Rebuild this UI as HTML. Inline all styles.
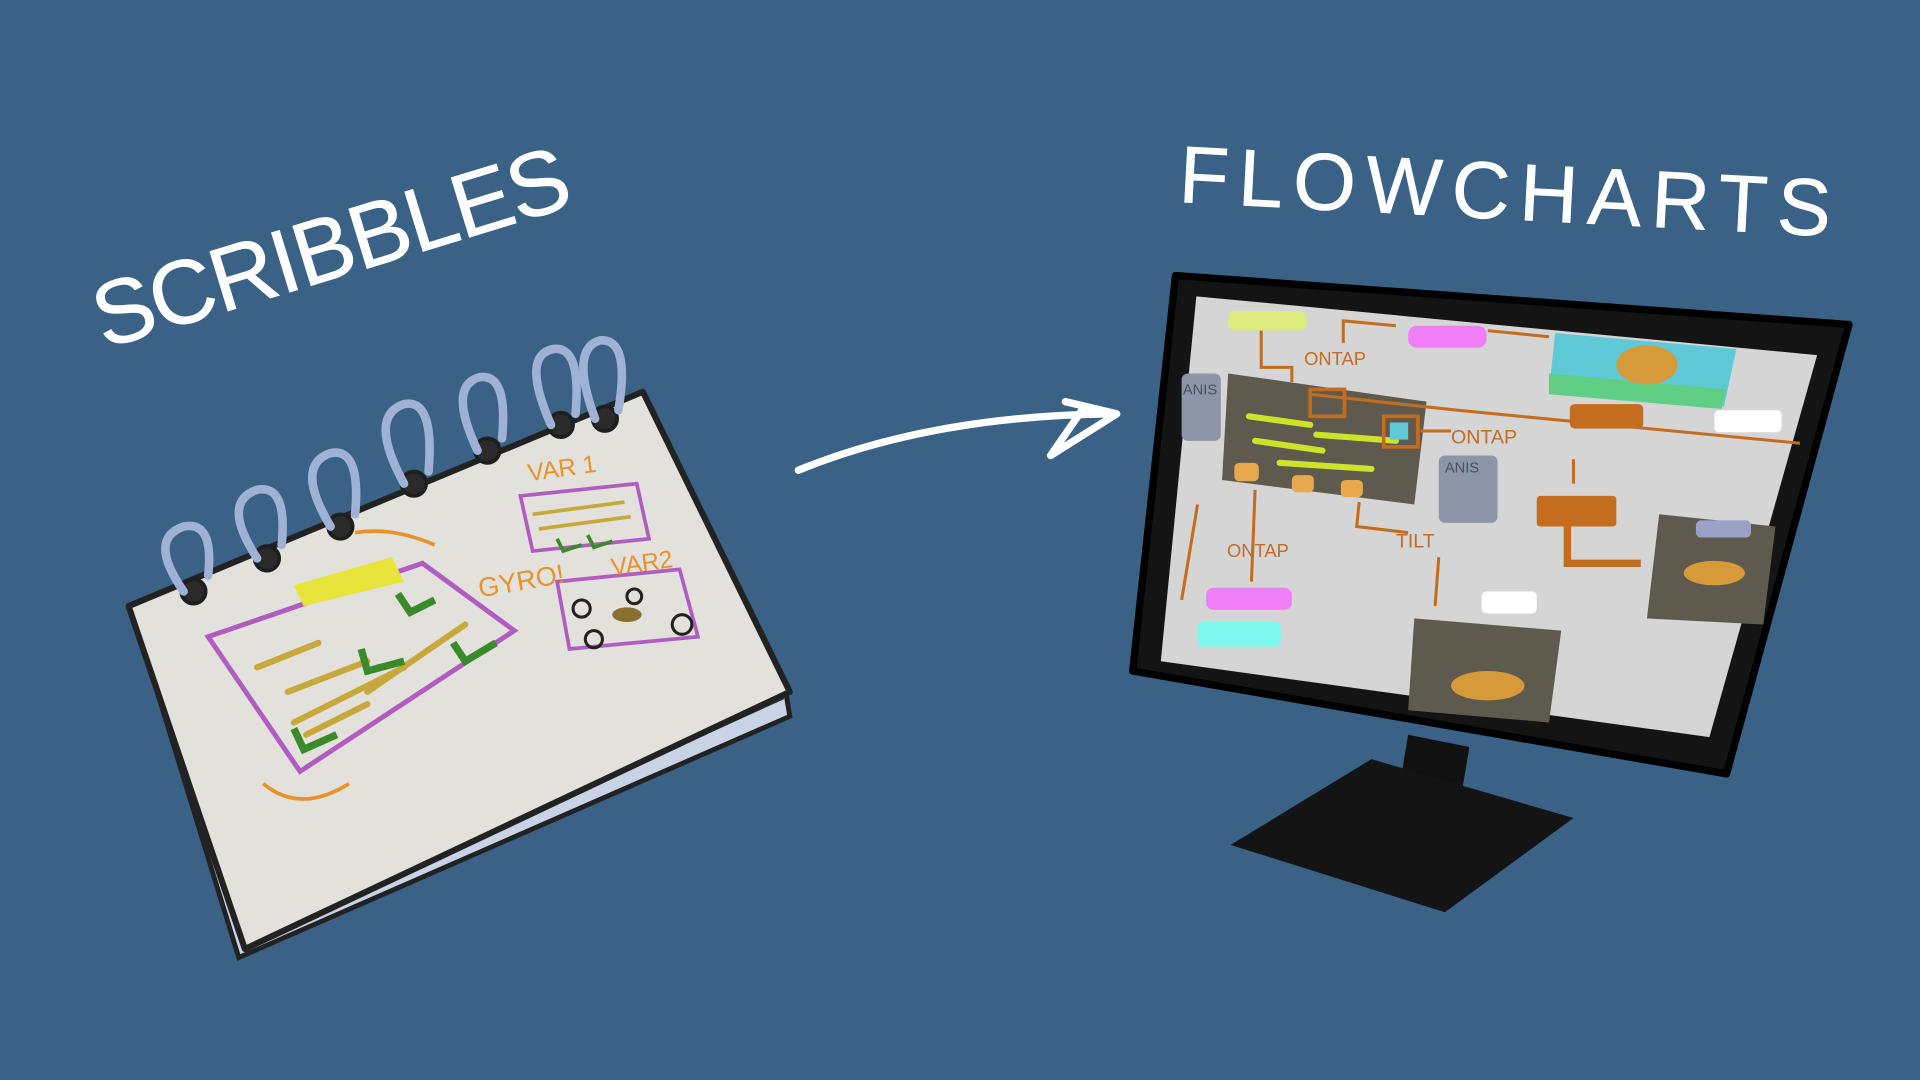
<!DOCTYPE html>
<html><head><meta charset="utf-8"><style>
html,body{margin:0;padding:0;background:#3a6286;}
svg{display:block}
text{font-family:"Liberation Sans",sans-serif;}
</style></head><body>
<svg width="1920" height="1080" viewBox="0 0 1568 882" preserveAspectRatio="none">
<rect width="1568" height="882" fill="#3a6286"/>
<!-- titles -->
<text x="0" y="0" transform="translate(85,285) rotate(-17)" font-size="74" fill="#fff" stroke="#fff" stroke-width="0.5" letter-spacing="2" textLength="405">SCRIBBLES</text>
<text x="0" y="0" transform="translate(962,165) rotate(3)" font-size="66" fill="#fff" stroke="#fff" stroke-width="0.5" letter-spacing="2" textLength="535">FLOWCHARTS</text>
<!-- arrow -->
<path d="M652 384 Q760 340 905 338" stroke="#fff" stroke-width="6" fill="none" stroke-linecap="round"/>
<path d="M870 328 L912 338 L858 372 L885 333" stroke="#fff" stroke-width="6" fill="none" stroke-linejoin="round" stroke-linecap="round"/>
<!-- notebook -->
<path d="M110 505 L195 782 L645 585 L640 555 L200 765 Z" fill="#c9d3e6" stroke="#222" stroke-width="4"/>
<path d="M200 770 L640 570" stroke="#333" stroke-width="2"/>
<path d="M105 495 L525 320 L645 565 L200 775 Z" fill="#e2e1dc" stroke="#222" stroke-width="5" stroke-linejoin="round"/>
<g stroke="#1e1e1e" stroke-width="3" fill="#2a2a2a">
<circle cx="158" cy="483" r="10"/><circle cx="218" cy="456" r="10"/><circle cx="278" cy="430" r="10"/><circle cx="338" cy="395" r="10"/><circle cx="398" cy="368" r="10"/><circle cx="458" cy="347" r="10"/><circle cx="494" cy="342" r="10"/>
</g>
<g stroke="#9fb2d6" stroke-width="7" fill="none" stroke-linecap="round">
<path d="M150 483 Q120 440 150 430 Q175 425 170 470"/><path d="M210 456 Q180 410 210 400 Q235 395 230 445"/>
<path d="M270 430 Q240 380 270 370 Q295 365 290 420"/><path d="M330 395 Q300 340 330 330 Q355 325 350 385"/>
<path d="M390 368 Q365 315 392 308 Q415 305 410 358"/><path d="M450 347 Q425 290 452 285 Q475 282 470 338"/>
<path d="M486 342 Q465 285 490 278 Q515 276 505 335"/>
</g>
<path d="M170 520 L345 460 L420 515 L245 630 Z" fill="none" stroke="#b05cc0" stroke-width="4"/>
<path d="M240 478 L320 455 L330 475 L248 495 Z" fill="#e8e43a"/>
<g stroke="#c8a83a" stroke-width="5" stroke-linecap="round"><path d="M210 545 L260 525"/><path d="M235 565 L300 540"/><path d="M240 590 L330 545"/><path d="M300 565 L380 510"/><path d="M250 600 L300 575"/></g>
<g stroke="#3a8a2a" stroke-width="6" fill="none"><path d="M325 485 L335 500 L355 490"/><path d="M295 530 L300 548 L330 540"/><path d="M370 525 L380 540 L405 525"/><path d="M240 595 L248 612 L275 600"/></g>
<path d="M425 405 L520 395 L530 440 L435 450 Z" fill="none" stroke="#b05cc0" stroke-width="3"/>
<g stroke="#c8a83a" stroke-width="3"><path d="M435 420 L510 410"/><path d="M440 432 L515 422"/></g>
<g stroke="#3a8a2a" stroke-width="3" fill="none"><path d="M455 440 L460 450 L475 445"/><path d="M480 437 L485 447 L500 442"/></g>
<path d="M455 475 L555 465 L570 520 L465 530 Z" fill="none" stroke="#b05cc0" stroke-width="3"/>
<g stroke="#222" stroke-width="2.5" fill="none"><circle cx="475" cy="497" r="7"/><circle cx="518" cy="487" r="6"/><circle cx="557" cy="510" r="8"/><circle cx="485" cy="522" r="7"/></g>
<ellipse cx="512" cy="502" rx="12" ry="6" fill="#8a7030"/>
<text x="432" y="393" font-size="20" fill="#e8922a" transform="rotate(-8 432 393)">VAR 1</text>
<text x="500" y="470" font-size="20" fill="#e8922a" transform="rotate(-8 500 470)">VAR2</text>
<text x="392" y="488" font-size="22" fill="#e8922a" transform="rotate(-10 392 488)">GYRO!</text>
<path d="M215 640 Q245 665 285 640" stroke="#e8922a" stroke-width="3" fill="none"/>
<path d="M290 435 Q320 430 355 445" stroke="#e8922a" stroke-width="3" fill="none"/>
<!-- monitor stand -->
<path d="M1150 600 L1200 610 L1190 670 L1140 660 Z" fill="#111"/>
<path d="M1005 690 L1120 620 L1285 668 L1180 745 Z" fill="#141414"/>
<!-- monitor -->
<path d="M960 225 L1510 265 L1410 632 L925 548 Z" fill="#141414" stroke="#000" stroke-width="6" stroke-linejoin="round"/>
<path d="M977 242 L1484 290 L1396 602 L948 540 Z" fill="#d5d5d5"/>
<rect x="1003" y="254" width="64" height="16" rx="6" fill="#dcec7e"/>
<rect x="1150" y="266" width="64" height="18" rx="7" fill="#f07ef6"/>
<path d="M1270 272 L1418 285 L1408 332 L1265 320 Z" fill="#5fc9d8"/>
<path d="M1265 305 L1410 318 L1406 334 L1265 322 Z" fill="#5fcf86"/>
<ellipse cx="1345" cy="298" rx="25" ry="16" fill="#d79a3a"/>
<rect x="1282" y="330" width="60" height="20" rx="4" fill="#c56d1f"/>
<rect x="1400" y="335" width="55" height="18" rx="4" fill="#fff"/>
<rect x="1255" y="405" width="65" height="25" rx="3" fill="#c56d1f"/>
<path d="M1003 305 L1165 328 L1155 412 L998 392 Z" fill="#5e5a4d"/>
<g stroke="#cfe22a" stroke-width="5" stroke-linecap="round"><path d="M1020 340 L1070 347"/><path d="M1075 355 L1140 360"/><path d="M1025 360 L1080 368"/><path d="M1045 378 L1120 383"/></g>
<g fill="#e8a84e"><rect x="1008" y="378" width="20" height="15" rx="4"/><rect x="1055" y="388" width="18" height="14" rx="4"/><rect x="1095" y="392" width="18" height="14" rx="4"/></g>
<rect x="1070" y="318" width="28" height="22" fill="none" stroke="#c56d1f" stroke-width="3"/>
<rect x="1130" y="340" width="28" height="25" fill="none" stroke="#c56d1f" stroke-width="3"/>
<rect x="1135" y="345" width="15" height="14" fill="#5fc9d8"/>
<rect x="1175" y="372" width="48" height="55" rx="5" fill="#8d96a8"/>
<rect x="965" y="305" width="32" height="55" rx="5" fill="#8d96a8"/>
<path d="M1155 505 L1275 515 L1265 590 L1150 580 Z" fill="#5e5a4d"/>
<ellipse cx="1215" cy="560" rx="30" ry="12" fill="#d79a3a"/>
<path d="M1355 420 L1450 430 L1440 510 L1345 505 Z" fill="#5e5a4d"/>
<rect x="1385" y="425" width="45" height="14" rx="4" fill="#9aa2c8"/>
<ellipse cx="1400" cy="468" rx="25" ry="10" fill="#d79a3a"/>
<rect x="1210" y="483" width="45" height="18" rx="4" fill="#fff"/>
<rect x="985" y="480" width="70" height="18" rx="6" fill="#f07ef6"/>
<rect x="978" y="508" width="68" height="20" rx="4" fill="#7ef8f0"/>
<g stroke="#c56d1f" stroke-width="2.5" fill="none">
<path d="M1030 270 L1030 300 L1055 300 L1055 312"/><path d="M1097 280 L1097 262 L1140 266"/><path d="M1215 270 L1265 275"/>
<path d="M1070 322 L1190 335 L1470 362"/><path d="M1160 352 L1185 352"/><path d="M1025 400 L1022 475"/><path d="M1110 410 L1108 430 L1150 435"/>
<path d="M1175 455 L1172 495"/><path d="M978 412 L965 490"/><path d="M1285 375 L1285 395"/>
<path d="M1280 430 L1280 460 L1340 460" stroke-width="6"/>
</g>
<g fill="#c56d1f" font-size="15">
<text x="1065" y="298">ONTAP</text><text x="1185" y="362" font-size="16">ONTAP</text><text x="1002" y="455">ONTAP</text><text x="1140" y="447" font-size="16">TILT</text>
</g>
<g fill="#4a5060" font-size="12"><text x="1180" y="386">ANIS</text><text x="966" y="322">ANIS</text></g>
</svg>
</body></html>
